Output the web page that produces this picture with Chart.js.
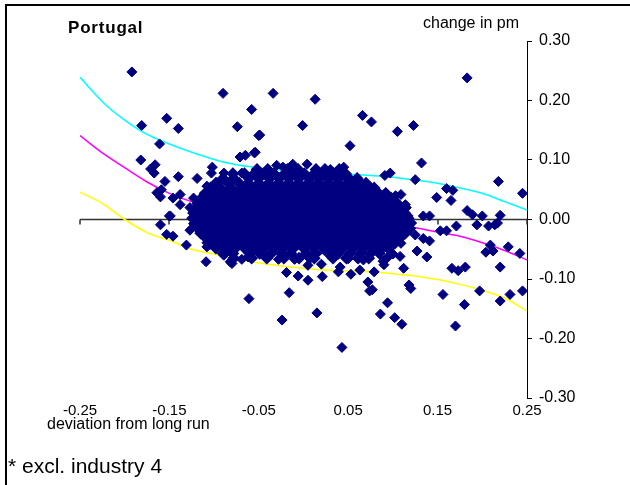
<!DOCTYPE html>
<html>
<head>
<meta charset="utf-8">
<script src="https://cdn.jsdelivr.net/npm/chart.js@4"></script>
<style>
  body { margin: 0; background: #fff; }
  canvas { display: block; }
</style>
</head>
<body>
<canvas id="chart" width="630" height="485"></canvas>
<script>
const xTicks = [-0.25, -0.15, -0.05, 0.05, 0.15, 0.25];
const yTicks = [-0.3, -0.2, -0.1, 0, 0.1, 0.2, 0.3];
const curveX = [-0.25, -0.225, -0.2, -0.175, -0.15, -0.125, -0.1, -0.075, -0.05, -0.025, 0,
  0.025, 0.05, 0.075, 0.1, 0.125, 0.15, 0.175, 0.2, 0.225, 0.25];
const upperBand = [0.239, 0.198, 0.167, 0.143, 0.127, 0.113, 0.101, 0.092, 0.087, 0.083, 0.080,
  0.077, 0.076, 0.074, 0.071, 0.066, 0.061, 0.053, 0.044, 0.030, 0.016];
const midBand = [0.141, 0.112, 0.087, 0.063, 0.044, 0.030, 0.021, 0.015, 0.011, 0.007, 0.004,
  0.001, -0.002, -0.005, -0.008, -0.014, -0.021, -0.028, -0.039, -0.052, -0.068];
const lowerBand = [0.046, 0.027, 0.000, -0.022, -0.035, -0.050, -0.058, -0.067, -0.073, -0.078, -0.082,
  -0.085, -0.086, -0.088, -0.091, -0.095, -0.101, -0.109, -0.119, -0.132, -0.154];

// scattered observations outside the dense core
const outliers = [
  [-0.192,0.248],[-0.090,0.212],[-0.153,0.170],[-0.181,0.158],[-0.140,0.153],[-0.161,0.127],
  [-0.182,0.100],[-0.166,0.092],[-0.171,0.085],[-0.167,0.078],[-0.102,0.088],[-0.089,0.078],
  [-0.103,0.078],[-0.140,0.072],[-0.119,0.069],[-0.108,0.056],[-0.155,0.064],[-0.097,0.062],
  [-0.164,0.045],[-0.159,0.050],[-0.146,0.036],[-0.138,0.042],[-0.138,0.025],[-0.127,0.020],
  [-0.150,0.006],[-0.123,0.036],[-0.112,0.039],[-0.105,0.031],[-0.160,0.038],
  [-0.034,0.212],[0.013,0.202],[-0.058,0.185],[-0.074,0.156],[-0.001,0.158],[-0.050,0.141],
  [0.066,0.175],[0.076,0.164],[0.052,0.124],[-0.055,0.112],[-0.071,0.105],[-0.065,0.108],
  [0.045,0.088],[-0.030,0.091],[-0.012,0.093],[0.004,0.093],[-0.023,0.088],[0.030,0.084],
  [0.063,0.064],[0.072,0.058],[0.054,0.060],[-0.069,0.078],[-0.054,0.113],[-0.049,0.142],
  [0.183,0.238],[0.123,0.158],[0.105,0.148],[0.132,0.095],[0.091,0.074],[0.097,0.078],
  [0.125,0.067],[0.218,0.064],[0.160,0.052],[0.167,0.049],[0.149,0.037],[0.165,0.032],
  [0.245,0.044],[0.103,0.040],[0.109,0.042],[0.086,0.036],[0.114,0.025],[0.115,0.020],
  [0.100,0.014],[0.134,0.006],[0.141,0.006],[0.183,0.015],[0.189,0.008],[0.200,0.006],
  [0.220,0.007],[0.117,0.006],[0.089,0.008],[0.095,0.011],
  [0.171,-0.011],[0.194,-0.009],[0.207,-0.011],[0.214,-0.009],[0.217,-0.006],[0.153,-0.019],
  [0.160,-0.019],[0.125,-0.026],[0.134,-0.032],[0.141,-0.036],[0.127,-0.053],[0.138,-0.063],
  [0.209,-0.043],[0.204,-0.055],[0.212,-0.053],[0.229,-0.046],[0.242,-0.057],[0.112,-0.082],
  [0.166,-0.082],[0.173,-0.086],[0.181,-0.080],[0.220,-0.080],[0.118,-0.110],[0.120,-0.116],
  [0.156,-0.126],[0.197,-0.120],[0.220,-0.137],[0.231,-0.126],[0.245,-0.120],[0.180,-0.143],
  [0.094,-0.140],[0.086,-0.159],[0.102,-0.165],[0.110,-0.176],[0.170,-0.179],
  [0.095,-0.020],[0.102,-0.030],[0.109,-0.040],[0.095,-0.050],[0.100,-0.058],[0.089,-0.070],
  [0.108,-0.062],[0.090,-0.076],[0.094,-0.064],
  [-0.061,-0.133],[-0.024,-0.169],[-0.016,-0.123],[0.015,-0.157],[0.043,-0.215],[0.074,-0.120],
  [0.077,-0.118],[0.072,-0.105],[-0.019,-0.089],[-0.006,-0.095],[0.005,-0.102],[0.021,-0.096],
  [0.039,-0.088],[0.053,-0.092],[0.079,-0.088],[-0.080,-0.074],[0.005,-0.077],[0.020,-0.075],
  [0.063,-0.085],[-0.069,-0.067],[-0.062,-0.063],[-0.028,-0.067],[-0.010,-0.067],[0.007,-0.066],
  [0.041,-0.080],[0.050,-0.066],[0.067,-0.068],
  [-0.160,-0.009],[-0.153,-0.025],[-0.146,-0.028],[-0.131,-0.043],[-0.108,-0.039],[-0.108,-0.046],
  [-0.095,-0.041],[-0.109,-0.071],[-0.089,-0.060],[-0.123,-0.007],[-0.127,-0.018],[-0.116,-0.015],
  [-0.101,-0.024],[-0.090,-0.029],[-0.149,0.006],[-0.082,-0.071]
];

// dense core, one row per change level: [y, [x values]]
const coreRows = [
  [0.084, [-0.052,-0.040,-0.018,-0.006,0.014,0.024,0.040]],
  [0.077, [-0.079,-0.066,-0.055,-0.043,-0.033,-0.021,-0.010,0.001,0.012,0.023,0.034,0.047]],
  [0.069, [-0.090,-0.078,-0.061,-0.050,-0.038,-0.027,-0.016,-0.005,0.007,0.018,0.029,0.040,0.051,0.060]],
  [0.061, [-0.098,-0.084,-0.072,-0.062,-0.050,-0.039,-0.028,-0.017,-0.006,0.005,0.016,0.027,0.038,0.049,0.062,0.070]],
  [0.053, [-0.104,-0.093,-0.081,-0.069,-0.056,-0.044,-0.033,-0.022,-0.011,0.000,0.011,0.022,0.033,0.045,0.056,0.066,0.079]],
  [0.044, [-0.110,-0.097,-0.086,-0.075,-0.063,-0.051,-0.039,-0.028,-0.017,-0.006,0.005,0.016,0.028,0.039,0.050,0.061,0.072,0.084,0.092]],
  [0.036, [-0.114,-0.103,-0.092,-0.080,-0.068,-0.057,-0.045,-0.034,-0.023,-0.012,-0.001,0.010,0.022,0.033,0.044,0.055,0.067,0.078,0.089,0.098]],
  [0.027, [-0.118,-0.108,-0.097,-0.086,-0.074,-0.062,-0.051,-0.040,-0.029,-0.018,-0.007,0.004,0.016,0.027,0.038,0.049,0.061,0.072,0.083,0.094,0.105]],
  [0.019, [-0.121,-0.110,-0.100,-0.091,-0.080,-0.068,-0.057,-0.046,-0.035,-0.024,-0.013,-0.002,0.010,0.021,0.032,0.043,0.055,0.066,0.077,0.088,0.099,0.109]],
  [0.011, [-0.123,-0.113,-0.105,-0.096,-0.085,-0.074,-0.063,-0.052,-0.041,-0.030,-0.019,-0.008,0.004,0.015,0.026,0.037,0.049,0.060,0.071,0.082,0.093,0.104,0.113]],
  [0.002, [-0.124,-0.116,-0.108,-0.099,-0.091,-0.080,-0.069,-0.058,-0.047,-0.036,-0.025,-0.014,-0.002,0.009,0.020,0.031,0.043,0.054,0.065,0.076,0.087,0.098,0.108,0.117]],
  [-0.006, [-0.121,-0.111,-0.102,-0.093,-0.085,-0.074,-0.063,-0.052,-0.041,-0.030,-0.019,-0.008,0.004,0.015,0.026,0.037,0.049,0.060,0.071,0.082,0.093,0.104,0.113,0.120]],
  [-0.015, [-0.118,-0.107,-0.097,-0.088,-0.079,-0.068,-0.057,-0.046,-0.035,-0.024,-0.013,-0.002,0.010,0.021,0.032,0.043,0.055,0.066,0.077,0.088,0.099,0.110,0.119]],
  [-0.023, [-0.115,-0.104,-0.093,-0.082,-0.073,-0.062,-0.051,-0.040,-0.029,-0.018,-0.007,0.004,0.016,0.027,0.038,0.049,0.061,0.072,0.083,0.094,0.105,0.114]],
  [-0.031, [-0.109,-0.098,-0.088,-0.078,-0.067,-0.056,-0.045,-0.034,-0.023,-0.012,-0.001,0.010,0.022,0.033,0.044,0.055,0.067,0.078,0.089,0.100,0.108]],
  [-0.040, [-0.104,-0.093,-0.082,-0.072,-0.061,-0.050,-0.039,-0.028,-0.017,-0.006,0.005,0.016,0.027,0.039,0.050,0.061,0.072,0.083,0.094,0.102]],
  [-0.048, [-0.098,-0.086,-0.076,-0.066,-0.055,-0.044,-0.033,-0.022,-0.011,0.000,0.011,0.022,0.033,0.044,0.056,0.067,0.078,0.088,0.095]],
  [-0.057, [-0.090,-0.079,-0.060,-0.049,-0.036,-0.025,-0.014,0.003,0.014,0.028,0.039,0.052,0.064,0.075,0.085]],
  [-0.065, [-0.078,-0.058,-0.041,-0.022,-0.005,0.012,0.033,0.048,0.061,0.073]]
];

const outlierPts = outliers.map(([x, y]) => ({x, y}));
const corePts = [];
coreRows.forEach(([y, xs]) => xs.forEach(x => corePts.push({x, y})));

const band = (vals) => curveX.map((x, i) => ({x, y: vals[i]}));
const lineDs = (vals, color) => ({
  data: band(vals),
  showLine: true,
  borderColor: color,
  borderWidth: 1.5,
  pointRadius: 0,
  tension: 0.3,
  order: 2,
});
const pointDs = (pts, border) => ({
  data: pts,
  pointStyle: "rectRot",
  pointRadius: 5,
  backgroundColor: "#000080",
  borderColor: "#000080",
  borderWidth: border,
  order: 1,
});

const FONT = "'Liberation Sans', Arial, sans-serif";

const extras = {
  id: "extras",
  beforeDraw(chart) {
    const ctx = chart.ctx;
    ctx.save();
    ctx.fillStyle = "#fff";
    ctx.fillRect(0, 0, chart.width, chart.height);
    ctx.restore();
  },
  beforeDatasetsDraw(chart) {
    const { ctx, scales: { x, y } } = chart;
    const y0 = y.getPixelForValue(0);
    ctx.save();
    ctx.strokeStyle = "#333";
    ctx.lineWidth = 1.5;
    ctx.beginPath();
    ctx.moveTo(x.getPixelForValue(-0.25), y0);
    ctx.lineTo(x.getPixelForValue(0.25), y0);
    xTicks.forEach((v) => {
      const px = Math.round(x.getPixelForValue(v));
      ctx.moveTo(px, y0);
      ctx.lineTo(px, y0 + 5);
    });
    ctx.stroke();
    ctx.restore();
  },
  afterDraw(chart) {
    const ctx = chart.ctx;
    ctx.save();
    // frame
    ctx.strokeStyle = "#000";
    ctx.lineWidth = 2;
    ctx.beginPath();
    ctx.moveTo(6, 485);
    ctx.lineTo(6, 5);
    ctx.lineTo(630, 5);
    ctx.stroke();
    ctx.fillStyle = "#000";
    ctx.textBaseline = "middle";
    ctx.font = "bold 17px " + FONT;
    ctx.letterSpacing = "0.8px";
    ctx.fillText("Portugal", 68, 28);
    ctx.letterSpacing = "0px";
    ctx.font = "16px " + FONT;
    ctx.fillText("change in pm", 423, 24);
    ctx.fillText("deviation from long run", 47, 425);
    ctx.font = "21px " + FONT;
    ctx.fillText("* excl. industry 4", 8, 467);
    ctx.restore();
  },
};

new Chart(document.getElementById("chart"), {
  type: "scatter",
  data: {
    datasets: [
      pointDs(outlierPts, 1),
      pointDs(corePts, 2),
      lineDs(upperBand, "#00FFFF"),
      lineDs(midBand, "#FF00FF"),
      lineDs(lowerBand, "#FFFF00"),
    ],
  },
  options: {
    responsive: false,
    animation: false,
    events: [],
    layout: { padding: { left: 80, top: 41, right: 0, bottom: 0 } },
    plugins: { legend: { display: false }, tooltip: { enabled: false } },
    scales: {
      x: {
        type: "linear",
        position: "bottom",
        min: -0.25,
        max: 0.25,
        grid: { display: false, drawTicks: false },
        border: { display: false },
        ticks: {
          padding: 4,
          color: "#000",
          font: { family: FONT, size: 15 },
          callback: (v) => v.toFixed(2),
        },
        afterBuildTicks: (s) => { s.ticks = xTicks.map((v) => ({ value: v })); },
        afterFit: (s) => { s.height = 87; },
      },
      y: {
        type: "linear",
        position: "right",
        min: -0.3,
        max: 0.3,
        grid: { drawOnChartArea: false, drawTicks: true, tickLength: 5, color: "#000" },
        border: { display: true, color: "#000", width: 1 },
        ticks: {
          padding: 7,
          color: "#000",
          font: { family: FONT, size: 16 },
          callback: (v) => (Math.abs(v) < 1e-9 ? "0.00" : v.toFixed(2)),
        },
        afterBuildTicks: (s) => { s.ticks = yTicks.map((v) => ({ value: v })); },
        afterFit: (s) => { s.width = 103; },
      },
    },
  },
  plugins: [extras],
});
</script>
</body>
</html>
